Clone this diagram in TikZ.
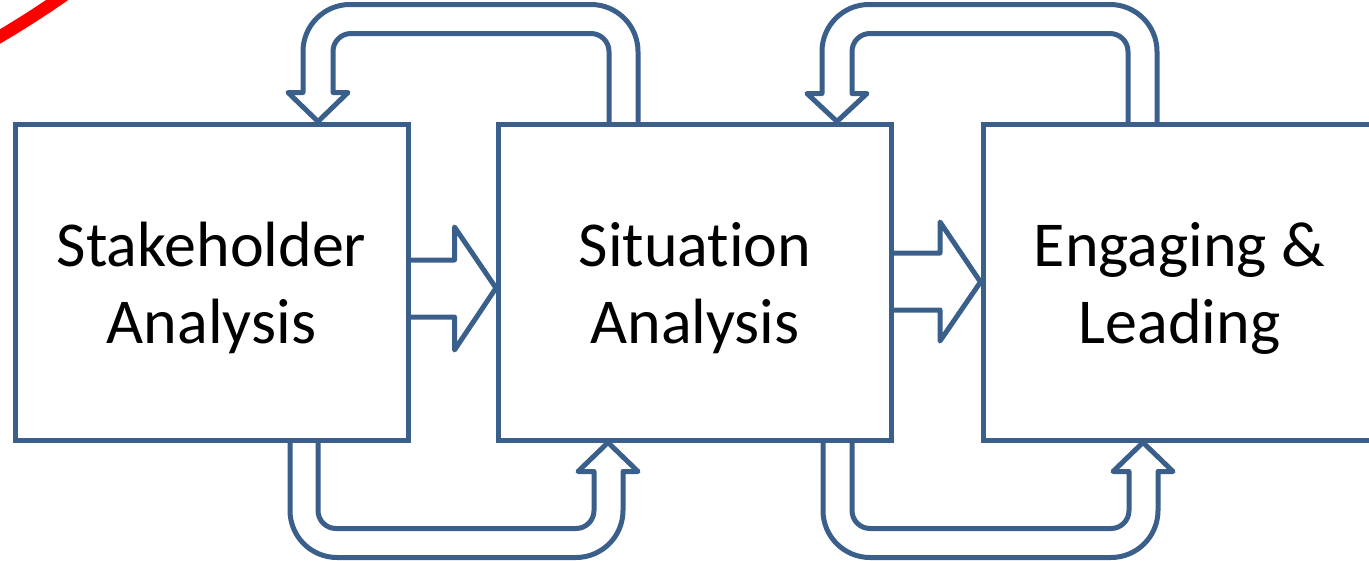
\documentclass[tikz,border=0pt]{standalone}
\usepackage{fontspec}
\setmainfont[Ligatures=NoCommon,RawFeature={-calt;-clig;-dlig}]{Carlito}
\usetikzlibrary{calc}
\definecolor{boxblue}{RGB}{58,95,139}
\begin{document}
\begin{tikzpicture}[x=1pt,y=-1pt,
  stagebox/.style={draw=boxblue,line width=5pt,minimum width=393pt,minimum height=316pt,inner sep=0pt},
  stagelabel/.style={align=center,font=\fontsize{64}{77}\selectfont,text=black,inner sep=0pt},
  hollow/.style={draw=boxblue,line width=5pt,line join=round,line cap=round}]
\useasboundingbox (0,0) rectangle (1369,560);
% red mark
\draw[red,line width=12.5pt] (-6,40) .. controls (18,26) and (40,12) .. (66,-6);
% stages
\node[stagebox] (s1) at (211.5,282) {};
\node[stagebox] (s2) at (695,282) {};
\node[stagebox] (s3) at (1179.5,282) {};
\node[stagelabel] (t1) at ($(s1.center)+(0,6)$) {Stakeholder\\Analysis};
\node[stagelabel] (t2) at ($(s2.center)+(0,6)$) {Situat\kern0pt ion\\Analysis};
\node[stagelabel] (t3) at ($(s3.center)+(0,6)$) {Engaging \&\\Leading};
% forward block arrows
\draw[hollow] ($(s1.east)+(0,-22)$) -- ++(44,0) -- ++(0,-33) -- ($(s2.west)+(0,6)$)
  -- ($(s1.east)+(44,68)$) -- ++(0,-33) -- ($(s1.east)+(0,35)$);
\draw[hollow] ($(s2.east)+(0,-29)$) -- ++(46,0) -- ++(0,-31) -- (s3.west)
  -- ($(s2.east)+(46,59)$) -- ++(0,-31) -- ($(s2.east)+(0,28)$);
% feedback U-arrows on top
\draw[hollow] ($(s2.north)+(-57,0)$) [rounded corners=47pt] -- ++(0,-117) -- ++(-335,0)
  [sharp corners] -- ++(0,88) -- ++(-15,0) -- ($(s1.north)+(106.5,0)$) -- ++(30,-29) -- ++(-15,0)
  [rounded corners=18pt] -- ++(0,-59) -- ++(276,0) [sharp corners] -- ($(s2.north)+(-86,0)$);
\draw[hollow] ($(s3.north)+(-22.5,0)$) [rounded corners=47pt] -- ++(0,-117) -- ++(-335,0)
  [sharp corners] -- ++(0,89) -- ++(-15,0) -- ($(s2.north)+(142,0)$) -- ++(30,-28) -- ++(-15,0)
  [rounded corners=18pt] -- ++(0,-60) -- ++(276,0) [sharp corners] -- ($(s3.north)+(-51.5,0)$);
% feedback U-arrows at bottom
\draw[hollow] ($(s1.south)+(78.5,0)$) [rounded corners=47pt] -- ++(0,115) -- ++(333,0)
  [sharp corners] -- ++(0,-86) -- ++(15,0) -- ($(s2.south)+(-87,0)$) -- ++(-30,29) -- ++(16,0)
  [rounded corners=18pt] -- ++(0,57) -- ++(-276,0) [sharp corners] -- ($(s1.south)+(106.5,0)$);
\draw[hollow] ($(s2.south)+(128,0)$) [rounded corners=47pt] -- ++(0,115) -- ++(335,0)
  [sharp corners] -- ++(0,-86) -- ++(15,0) -- ($(s3.south)+(-36.5,0)$) -- ++(-30,29) -- ++(16,0)
  [rounded corners=18pt] -- ++(0,57) -- ++(-277,0) [sharp corners] -- ($(s2.south)+(157,0)$);
\end{tikzpicture}
\end{document}
